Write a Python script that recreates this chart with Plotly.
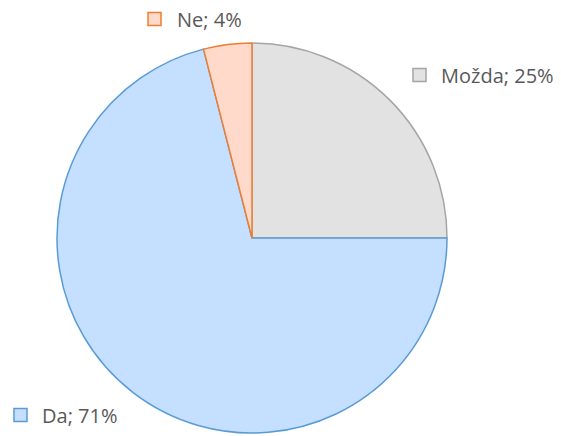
import plotly.graph_objects as go

W, H = 561, 436
OFF = 8  # page body margin offset
labels = ["Možda", "Da", "Ne"]
values = [25, 71, 4]
fills = ["#E2E2E2", "#C4DFFF", "#FFDACA"]
borders = ["#A5A5A5", "#5B9BD5", "#ED7D31"]

cx, cy, r = 252 - OFF, 238 - OFF, 195

fig = go.Figure(go.Pie(
    labels=labels, values=values, sort=False, direction="clockwise", rotation=0,
    marker=dict(colors=fills, line=dict(color=borders, width=1.5)),
    textinfo="none", hoverinfo="label+percent", showlegend=False,
    domain=dict(x=[(cx - r) / W, (cx + r) / W], y=[(H - cy - r) / H, (H - cy + r) / H]),
))

# label positions (pixels: square left x, text left x, center y)
label_pos = {"Ne": (148, 175, 19), "Možda": (413, 439, 75), "Da": (14, 40, 415)}
sq = 13
shapes, annots = [], []
for lab, val, f, b in zip(labels, values, fills, borders):
    sx, tx, yc = label_pos[lab]
    sx, tx, yc = sx - OFF, tx - OFF, yc - OFF
    shapes.append(dict(type="rect", xref="paper", yref="paper",
                       x0=sx / W, x1=(sx + sq) / W,
                       y0=(H - yc - sq / 2) / H, y1=(H - yc + sq / 2) / H,
                       fillcolor=f, line=dict(color=b, width=1.5)))
    annots.append(dict(xref="paper", yref="paper", x=tx / W, y=(H - yc) / H,
                       xanchor="left", yanchor="middle", showarrow=False,
                       text=f"{lab}; {val}%",
                       font=dict(family="Open Sans, Liberation Sans, sans-serif", size=20, color="#595959")))

fig.update_layout(width=W, height=H, margin=dict(l=0, r=0, t=0, b=0),
                  paper_bgcolor="white", plot_bgcolor="white",
                  shapes=shapes, annotations=annots)
fig.write_html("out.html")
